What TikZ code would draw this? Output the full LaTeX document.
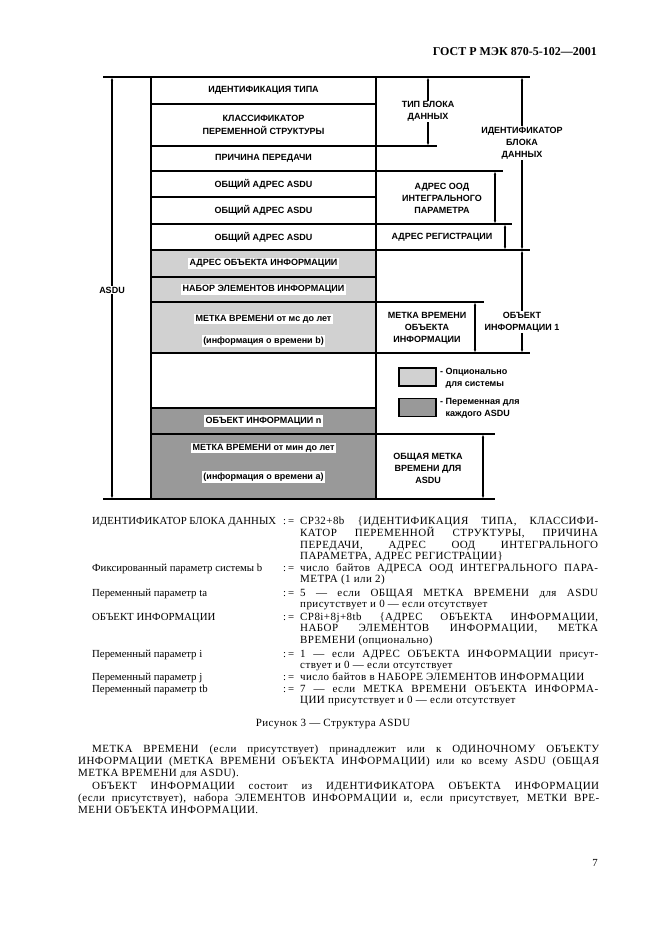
\documentclass[tikz,border=0pt]{standalone}
\usepackage{fontspec}
\setmainfont{Liberation Serif}
\newfontfamily\diagfont{Liberation Sans}
\usetikzlibrary{arrows.meta}
\definecolor{optgray}{gray}{0.82}
\definecolor{vargray}{gray}{0.6}
\tikzset{
  lbl/.style={font=\diagfont\bfseries\fontsize{9}{11.8}\selectfont, align=center, inner sep=1pt},
  row/.style={lbl, draw, line width=1.6pt, minimum width=225pt, inner sep=0pt, outer sep=0pt},
  hl/.style={lbl, fill=white, inner sep=1.5pt},
  ext/.style={line width=1.1pt},
  dim/.style={line width=1.1pt, {Latex[length=4pt,width=2.6pt]}-{Latex[length=4pt,width=2.6pt]}},
  keybox/.style={draw, line width=1.3pt, minimum width=37pt, minimum height=18pt, inner sep=0pt},
  body/.style={font=\fontsize{10.8}{11.5}\selectfont, inner sep=0pt},
  wide/.style={body, font=\fontsize{11}{11.5}\selectfont\addfontfeature{LetterSpace=4}},
  deftext/.style={wide, text width=298pt, align=justify, anchor=base west},
  para/.style={wide, font=\fontsize{11}{12}\selectfont\addfontfeature{LetterSpace=4}, text width=521pt, align=justify, anchor=base west},
}
% one line of the list below the figure: name, baseline, left text, right text
\newcommand\defentry[4]{%
  \node[body, anchor=base west] (#1l) at (92,#2) {#3};
  \node[body, anchor=base west] (#1s) at (283,#2) {:\,=};
  \node[deftext] (#1r) at (300,#2) {#4};
}

\begin{document}
\begin{tikzpicture}[x=1pt,y=-1pt]
\useasboundingbox (0,0) rectangle (661,936);

\node[font=\bfseries\fontsize{12}{14}\selectfont, anchor=base east, inner sep=0pt] (head) at (597,56) {ГОСТ Р МЭК 870-5-102—2001};

% columns of the dimension arrows
\coordinate (cAsdu) at (112,0);
\coordinate (cTip) at (428,0);
\coordinate (cId) at (522,0);
\coordinate (cOod) at (495,0);
\coordinate (cReg) at (505,0);
\coordinate (cMt) at (475,0);
\coordinate (cCom) at (483,0);

% ASDU
\node[row, minimum height=27pt] (r1) at (263.5,90.5) {ИДЕНТИФИКАЦИЯ ТИПА};
\node[row, minimum height=42pt, font=\diagfont\bfseries\fontsize{9}{12.7}\selectfont] (r2) at (263.5,125) {КЛАССИФИКАТОР\\ПЕРЕМЕННОЙ СТРУКТУРЫ};
\node[row, minimum height=25pt] (r3) at (263.5,158.5) {ПРИЧИНА ПЕРЕДАЧИ};
\node[row, minimum height=26pt] (r4) at (263.5,184) {ОБЩИЙ АДРЕС ASDU};
\node[row, minimum height=27pt] (r5) at (263.5,210.5) {ОБЩИЙ АДРЕС ASDU};
\node[row, minimum height=26pt] (r6) at (263.5,237) {ОБЩИЙ АДРЕС ASDU};
\node[row, fill=optgray, minimum height=27pt] (r7) at (263.5,263.5) {};
\node[row, fill=optgray, minimum height=25pt] (r8) at (263.5,289.5) {};
\node[row, fill=optgray, minimum height=51pt] (r9) at (263.5,327.5) {};
\node[row, minimum height=55pt] (r10) at (263.5,380.5) {};
\node[row, fill=vargray, minimum height=26pt] (r11) at (263.5,421) {};
\node[row, fill=vargray, minimum height=65pt] (r12) at (263.5,466.5) {};

\node[hl] (t7) at (r7) {АДРЕС ОБЪЕКТА ИНФОРМАЦИИ};
\node[hl] (t8) at (r8) {НАБОР ЭЛЕМЕНТОВ ИНФОРМАЦИИ};
\node[hl] (t9a) at (263.5,319) {МЕТКА ВРЕМЕНИ от мс до лет};
\node[hl] (t9b) at (263.5,341) {(информация о времени b)};
\node[hl] (t11) at (r11) {ОБЪЕКТ ИНФОРМАЦИИ n};
\node[hl] (t12a) at (263.5,448) {МЕТКА ВРЕМЕНИ от мин до лет};
\node[hl] (t12b) at (263.5,477) {(информация о времени a)};

% extension lines
\coordinate (l0) at (103,77);
\coordinate (e0) at (530,77);
\coordinate (l1) at (103,499);
\coordinate (e1) at (495,499);
\draw[ext] (l0) -- (r1.north west);
\draw[ext] (r1.north east) -- (e0);
\draw[ext] (l1) -- (r12.south west);
\draw[ext] (r12.south east) -- (e1);
\draw[ext] (r2.south east) -- +(61,0);
\draw[ext] (r3.south east) -- +(127,0);
\draw[ext] (r5.south east) -- +(136,0);
\draw[ext] (r6.south east) -- +(154,0);
\draw[ext] (r8.south east) -- +(108,0);
\draw[ext] (r9.south east) -- +(154,0);
\draw[ext] (r11.south east) -- +(119,0);

% dimension arrows
\draw[dim] (l0 -| cAsdu) -- (l1 -| cAsdu) node[lbl, fill=white, pos=0.505] (asdu) {ASDU};
\draw[dim] (r1.north -| cTip) -- (r2.south -| cTip) node[lbl, fill=white, midway] (tip) {ТИП БЛОКА\\ДАННЫХ};
\draw[dim] (r1.north -| cId) -- (r6.south -| cId) node[lbl, fill=white, pos=0.383] (ident) {ИДЕНТИФИКАТОР\\БЛОКА\\ДАННЫХ};
\draw[dim] (r3.south -| cOod) -- (r5.south -| cOod);
\node[lbl] (ood) at (442,198.5) {АДРЕС ООД\\ИНТЕГРАЛЬНОГО\\ПАРАМЕТРА};
\draw[dim] (r5.south -| cReg) -- (r6.south -| cReg);
\node[lbl] (reg) at (442,237) {АДРЕС РЕГИСТРАЦИИ};
\draw[dim] (r6.south -| cId) -- (r9.south -| cId) node[lbl, fill=white, pos=0.7] (obj) {ОБЪЕКТ\\ИНФОРМАЦИИ 1};
\draw[dim] (r8.south -| cMt) -- (r9.south -| cMt);
\node[lbl] (mvo) at (427,328.5) {МЕТКА ВРЕМЕНИ\\ОБЪЕКТА\\ИНФОРМАЦИИ};
\draw[dim] (r11.south -| cCom) -- (r12.south -| cCom);
\node[lbl] (com) at (428,468.5) {ОБЩАЯ МЕТКА\\ВРЕМЕНИ ДЛЯ\\ASDU};

% legend
\node[keybox, fill=optgray] (kopt) at (417.5,377) {};
\node[lbl, anchor=west, align=left] (topt) at (439,378.5) {- Опционально\\\phantom{- }для системы};
\node[keybox, fill=vargray] (kvar) at (417.5,407.5) {};
\node[lbl, anchor=west, align=left] (tvar) at (439,408) {- Переменная для\\\phantom{- }каждого ASDU};

% list under the figure
\defentry{d1}{524}{ИДЕНТИФИКАТОР БЛОКА ДАННЫХ}{CP32+8b \{ИДЕНТИФИКАЦИЯ ТИПА, КЛАССИФИ-\linebreak КАТОР ПЕРЕМЕННОЙ СТРУКТУРЫ, ПРИЧИНА\linebreak ПЕРЕДАЧИ, АДРЕС ООД ИНТЕГРАЛЬНОГО\linebreak ПАРАМЕТРА, АДРЕС РЕГИСТРАЦИИ\}}
\defentry{d2}{571}{Фиксированный параметр системы b}{число байтов АДРЕСА ООД ИНТЕГРАЛЬНОГО ПАРА-\linebreak МЕТРА (1 или 2)}
\defentry{d3}{596}{Переменный параметр ta}{5 — если ОБЩАЯ МЕТКА ВРЕМЕНИ для ASDU\linebreak присутствует и 0 — если отсутствует}
\defentry{d4}{620}{ОБЪЕКТ ИНФОРМАЦИИ}{CP8i+8j+8tb \{АДРЕС ОБЪЕКТА ИНФОРМАЦИИ,\linebreak НАБОР ЭЛЕМЕНТОВ ИНФОРМАЦИИ, МЕТКА\linebreak ВРЕМЕНИ (опционально)}
\defentry{d5}{657}{Переменный параметр i}{1 — если АДРЕС ОБЪЕКТА ИНФОРМАЦИИ присут-\linebreak ствует и 0 — если отсутствует}
\defentry{d6}{680}{Переменный параметр j}{число байтов в НАБОРЕ ЭЛЕМЕНТОВ ИНФОРМАЦИИ}
\defentry{d7}{692}{Переменный параметр tb}{7 — если МЕТКА ВРЕМЕНИ ОБЪЕКТА ИНФОРМА-\linebreak ЦИИ присутствует и 0 — если отсутствует}

\node[wide, anchor=base] (cap) at (333,726) {Рисунок 3 — Структура ASDU};

\node[para] (par1) at (78,752) {\hspace*{14pt}МЕТКА ВРЕМЕНИ (если присутствует) принадлежит или к ОДИНОЧНОМУ ОБЪЕКТУ\linebreak ИНФОРМАЦИИ (МЕТКА ВРЕМЕНИ ОБЪЕКТА ИНФОРМАЦИИ) или ко всему ASDU (ОБЩАЯ\linebreak МЕТКА ВРЕМЕНИ для ASDU).};
\node[para] (par2) at (78,789) {\hspace*{14pt}ОБЪЕКТ ИНФОРМАЦИИ состоит из ИДЕНТИФИКАТОРА ОБЪЕКТА ИНФОРМАЦИИ\linebreak (если присутствует), набора ЭЛЕМЕНТОВ ИНФОРМАЦИИ и, если присутствует, МЕТКИ ВРЕ-\linebreak МЕНИ ОБЪЕКТА ИНФОРМАЦИИ.};

\node[body, anchor=base east] (page) at (598,866) {7};
\end{tikzpicture}
\end{document}
